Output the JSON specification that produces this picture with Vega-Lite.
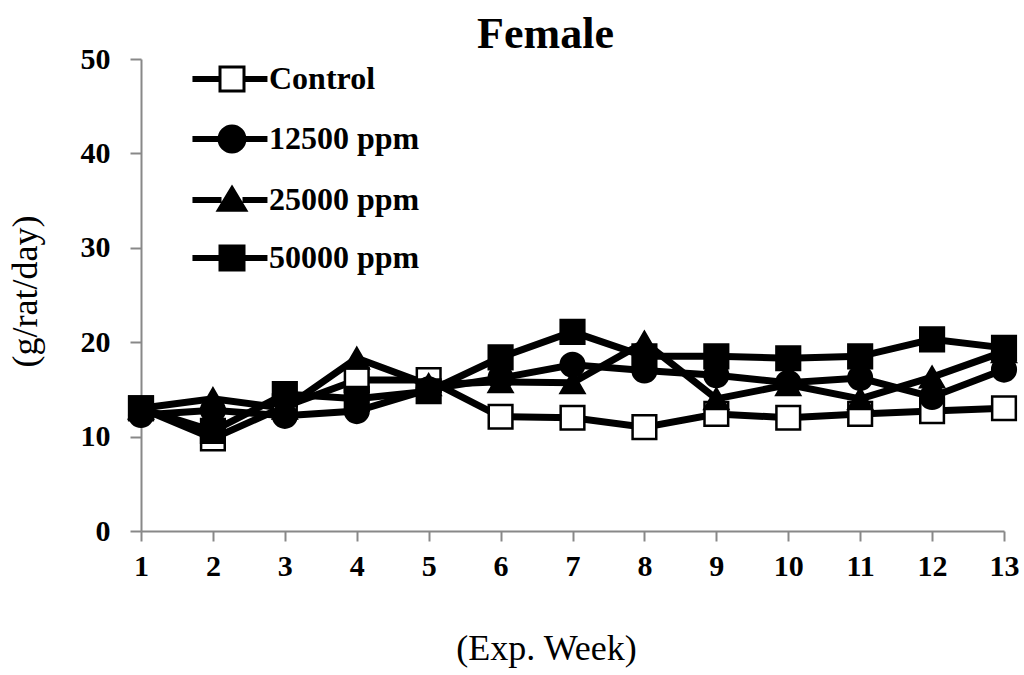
{
  "$schema": "https://vega.github.io/schema/vega-lite/v6.json",
  "width": 863,
  "height": 472,
  "autosize": {"type": "none"},
  "padding": {"left": 141, "top": 59, "right": 20, "bottom": 144},
  "background": "white",
  "title": {
    "text": "Female",
    "font": "Liberation Serif",
    "fontSize": 44,
    "fontWeight": "bold",
    "color": "black",
    "anchor": "middle",
    "baseline": "alphabetic",
    "offset": -48,
    "dx": -27
  },
  "config": {
    "view": {"stroke": null},
    "legend": {"padding": 0}
  },
  "data": {
    "values": [
      {"week": 1, "group": "Control", "value": 13.0},
      {"week": 2, "group": "Control", "value": 9.8},
      {"week": 3, "group": "Control", "value": 13.2},
      {"week": 4, "group": "Control", "value": 16.0},
      {"week": 5, "group": "Control", "value": 16.0},
      {"week": 6, "group": "Control", "value": 12.1},
      {"week": 7, "group": "Control", "value": 12.0},
      {"week": 8, "group": "Control", "value": 11.0},
      {"week": 9, "group": "Control", "value": 12.4},
      {"week": 10, "group": "Control", "value": 12.0},
      {"week": 11, "group": "Control", "value": 12.4},
      {"week": 12, "group": "Control", "value": 12.7},
      {"week": 13, "group": "Control", "value": 13.0},
      {"week": 1, "group": "12500 ppm", "value": 12.3},
      {"week": 2, "group": "12500 ppm", "value": 12.8},
      {"week": 3, "group": "12500 ppm", "value": 12.2},
      {"week": 4, "group": "12500 ppm", "value": 12.7},
      {"week": 5, "group": "12500 ppm", "value": 15.0},
      {"week": 6, "group": "12500 ppm", "value": 16.2},
      {"week": 7, "group": "12500 ppm", "value": 17.6},
      {"week": 8, "group": "12500 ppm", "value": 17.0},
      {"week": 9, "group": "12500 ppm", "value": 16.5},
      {"week": 10, "group": "12500 ppm", "value": 15.7},
      {"week": 11, "group": "12500 ppm", "value": 16.2},
      {"week": 12, "group": "12500 ppm", "value": 14.2},
      {"week": 13, "group": "12500 ppm", "value": 17.1},
      {"week": 1, "group": "25000 ppm", "value": 13.0},
      {"week": 2, "group": "25000 ppm", "value": 14.0},
      {"week": 3, "group": "25000 ppm", "value": 13.0},
      {"week": 4, "group": "25000 ppm", "value": 18.3},
      {"week": 5, "group": "25000 ppm", "value": 15.5},
      {"week": 6, "group": "25000 ppm", "value": 15.8},
      {"week": 7, "group": "25000 ppm", "value": 15.7},
      {"week": 8, "group": "25000 ppm", "value": 20.0},
      {"week": 9, "group": "25000 ppm", "value": 14.0},
      {"week": 10, "group": "25000 ppm", "value": 15.5},
      {"week": 11, "group": "25000 ppm", "value": 14.0},
      {"week": 12, "group": "25000 ppm", "value": 16.3},
      {"week": 13, "group": "25000 ppm", "value": 19.0},
      {"week": 1, "group": "50000 ppm", "value": 13.0},
      {"week": 2, "group": "50000 ppm", "value": 10.6},
      {"week": 3, "group": "50000 ppm", "value": 14.5},
      {"week": 4, "group": "50000 ppm", "value": 14.0},
      {"week": 5, "group": "50000 ppm", "value": 14.8},
      {"week": 6, "group": "50000 ppm", "value": 18.4},
      {"week": 7, "group": "50000 ppm", "value": 21.1},
      {"week": 8, "group": "50000 ppm", "value": 18.5},
      {"week": 9, "group": "50000 ppm", "value": 18.5},
      {"week": 10, "group": "50000 ppm", "value": 18.3},
      {"week": 11, "group": "50000 ppm", "value": 18.5},
      {"week": 12, "group": "50000 ppm", "value": 20.3},
      {"week": 13, "group": "50000 ppm", "value": 19.4}
    ]
  },
  "encoding": {
    "x": {
      "field": "week",
      "type": "quantitative",
      "scale": {"domain": [1, 13], "nice": false, "zero": false},
      "axis": {
        "title": "(Exp. Week)",
        "values": [1, 2, 3, 4, 5, 6, 7, 8, 9, 10, 11, 12, 13],
        "grid": false,
        "domainColor": "#888888",
        "domainWidth": 2,
        "tickColor": "#888888",
        "tickWidth": 2,
        "tickSize": 10,
        "labelFont": "Liberation Serif",
        "labelFontSize": 30,
        "labelFontWeight": "bold",
        "labelColor": "black",
        "labelPadding": 10,
        "labelFlush": false,
        "labelOverlap": false,
        "titleFont": "Liberation Serif",
        "titleFontSize": 36,
        "titleFontWeight": "normal",
        "titleColor": "black",
        "titleX": 405,
        "titleY": 117,
        "titleAlign": "center",
        "titleBaseline": "middle"
      }
    },
    "y": {
      "field": "value",
      "type": "quantitative",
      "scale": {"domain": [0, 50], "nice": false},
      "axis": {
        "title": "(g/rat/day)",
        "values": [0, 10, 20, 30, 40, 50],
        "grid": false,
        "domainColor": "#888888",
        "domainWidth": 2,
        "tickColor": "#888888",
        "tickWidth": 2,
        "tickSize": 11,
        "labelFont": "Liberation Serif",
        "labelFontSize": 30,
        "labelFontWeight": "bold",
        "labelColor": "black",
        "labelPadding": 20,
        "labelFlush": false,
        "titleFont": "Liberation Serif",
        "titleFontSize": 36,
        "titleFontWeight": "normal",
        "titleColor": "black",
        "titleX": -116,
        "titleY": 232,
        "titleAngle": -90,
        "titleAlign": "center",
        "titleBaseline": "middle"
      }
    }
  },
  "layer": [
    {
      "mark": {"type": "line", "color": "black", "strokeWidth": 7},
      "encoding": {
        "detail": {"field": "group", "type": "nominal"}
      }
    },
    {
      "mark": {"type": "point", "filled": true, "size": 560, "stroke": "black", "strokeWidth": 2.5, "opacity": 1},
      "encoding": {
        "shape": {
          "field": "group",
          "type": "nominal",
          "scale": {
            "domain": ["Control", "12500 ppm", "25000 ppm", "50000 ppm"],
            "range": ["square", "circle", "triangle-up", "square"]
          },
          "legend": null
        },
        "fill": {
          "field": "group",
          "type": "nominal",
          "scale": {
            "domain": ["Control", "12500 ppm", "25000 ppm", "50000 ppm"],
            "range": ["white", "black", "black", "black"]
          },
          "legend": null
        }
      }
    },
    {
      "transform": [{"filter": "datum.week < 0"}],
      "mark": {"type": "point", "filled": true, "size": 576, "strokeWidth": 3, "opacity": 1},
      "encoding": {
        "shape": {
          "field": "group",
          "type": "nominal",
          "scale": {
            "domain": ["Control", "12500 ppm", "25000 ppm", "50000 ppm"],
            "range": [
              "M-5.17,-0.12H-3V0.12H-5.17Z M-1,-0.12H0.83V0.12H-1Z M-3,-1H-1V1H-3Z",
              "M-5.17,-0.12H-3V0.12H-5.17Z M-1,-0.12H0.83V0.12H-1Z M-3.08,0A1.08,1.08,0,1,0,-0.92,0A1.08,1.08,0,1,0,-3.08,0Z",
              "M-5.17,-0.12H-3V0.12H-5.17Z M-1,-0.12H0.83V0.12H-1Z M-2,-1.05L-0.85,0.85L-3.15,0.85Z",
              "M-5.17,-0.12H-3V0.12H-5.17Z M-1,-0.12H0.83V0.12H-1Z M-3,-1H-1V1H-3Z"
            ]
          },
          "legend": {
            "title": null,
            "orient": "none",
            "legendX": 99,
            "legendY": 4,
            "direction": "vertical",
            "symbolSize": 576,
            "symbolStrokeWidth": 3,
            "symbolOpacity": 1,
            "labelFont": "Liberation Serif",
            "labelFontSize": 32,
            "labelFontWeight": "bold",
            "labelColor": "black",
            "labelOffset": -3,
            "rowPadding": 23
          }
        },
        "fill": {
          "field": "group",
          "type": "nominal",
          "scale": {
            "domain": ["Control", "12500 ppm", "25000 ppm", "50000 ppm"],
            "range": ["white", "black", "black", "black"]
          },
          "legend": {
            "title": null,
            "orient": "none",
            "legendX": 99,
            "legendY": 4,
            "direction": "vertical",
            "symbolSize": 576,
            "symbolStrokeWidth": 3,
            "symbolOpacity": 1,
            "labelFont": "Liberation Serif",
            "labelFontSize": 32,
            "labelFontWeight": "bold",
            "labelColor": "black",
            "labelOffset": -3,
            "rowPadding": 23
          }
        },
        "stroke": {
          "field": "group",
          "type": "nominal",
          "scale": {
            "domain": ["Control", "12500 ppm", "25000 ppm", "50000 ppm"],
            "range": ["black", "black", "black", "black"]
          },
          "legend": {
            "title": null,
            "orient": "none",
            "legendX": 99,
            "legendY": 4,
            "direction": "vertical",
            "symbolSize": 576,
            "symbolStrokeWidth": 3,
            "symbolOpacity": 1,
            "labelFont": "Liberation Serif",
            "labelFontSize": 32,
            "labelFontWeight": "bold",
            "labelColor": "black",
            "labelOffset": -3,
            "rowPadding": 23
          }
        }
      }
    }
  ],
  "resolve": {
    "scale": {"shape": "independent", "fill": "independent", "stroke": "independent"},
    "legend": {"shape": "independent", "fill": "independent", "stroke": "independent"}
  }
}
